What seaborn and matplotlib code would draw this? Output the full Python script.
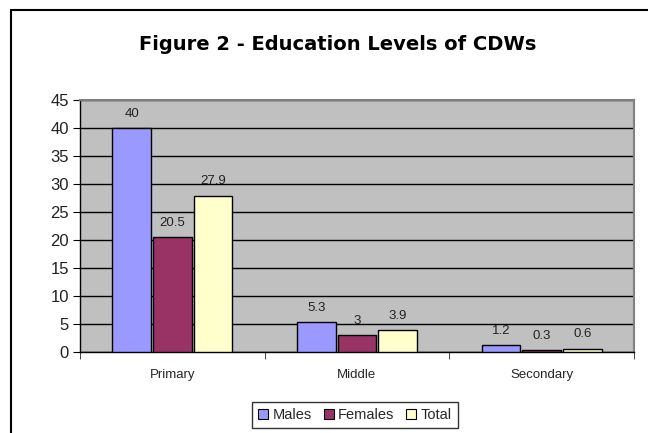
import matplotlib
matplotlib.use("Agg")
import matplotlib.pyplot as plt
import seaborn as sns
import pandas as pd
from matplotlib.patches import Rectangle
from matplotlib.lines import Line2D

categories = ["Primary", "Middle", "Secondary"]
series = ["Males", "Females", "Total"]
males = [40, 5.3, 1.2]
females = [20.5, 3, 0.3]
total = [27.9, 3.9, 0.6]
colors = ["#9999FF", "#993366", "#FFFFCC"]

rows = []
for s, vals in zip(series, [males, females, total]):
    for c, v in zip(categories, vals):
        rows.append({"Level": c, "Series": s, "Value": v})
df = pd.DataFrame(rows)

sns.set_style("white")
plt.rcParams["font.family"] = ["Liberation Sans", "DejaVu Sans"]

fig = plt.figure(figsize=(6.48, 4.33), dpi=100)
ax = fig.add_axes([80/648, 1 - 352/433, (634-80)/648, (352-100)/433])
ax.set_facecolor("#C0C0C0")

sns.barplot(data=df, x="Level", y="Value", hue="Series", order=categories,
            hue_order=series, palette=colors, saturation=1, width=0.66, gap=0.05,
            edgecolor="black", linewidth=1, ax=ax, legend=False, zorder=3)

ax.set_ylim(0, 45)
ax.set_xlim(-0.5, 2.5)
ax.set_yticks(range(0, 46, 5))
ax.yaxis.grid(True, color="black", linewidth=1, zorder=0)
ax.set_axisbelow(True)
ax.set_xlabel("")
ax.set_ylabel("")
ax.tick_params(axis="y", labelsize=12, length=5, direction="out", left=True, colors="black", pad=3)
ax.tick_params(axis="x", labelsize=9.5, length=0, pad=12)
ax.set_xticks([-0.5, 0.5, 1.5, 2.5], minor=True)
ax.tick_params(axis="x", which="minor", length=5, direction="out", bottom=True)
for lab in ax.get_yticklabels():
    lab.set_color("#222222")

for sp in ["top", "right"]:
    ax.spines[sp].set_color("#808080")
    ax.spines[sp].set_linewidth(1.5)
for sp in ["left", "bottom"]:
    ax.spines[sp].set_color("black")
    ax.spines[sp].set_linewidth(1)

for cont in ax.containers:
    ax.bar_label(cont, labels=[f"{v:g}" for v in cont.datavalues], padding=6, fontsize=9.5, color="#222222")

fig.text(338/648, 1 - 45/433, "Figure 2 - Education Levels of CDWs", ha="center", va="center",
         fontsize=14, fontweight="bold", color="black", family=["DejaVu Sans"])

handles = [Rectangle((0, 0), 1, 1, facecolor=c, edgecolor="black", linewidth=0.8) for c in colors]
leg = fig.legend(handles, series, loc="center", bbox_to_anchor=(355/648, 1 - 415/433), ncol=3,
                 frameon=True, fontsize=10.5, handlelength=0.7, handleheight=0.7, handletextpad=0.3,
                 columnspacing=0.8, borderpad=0.4, fancybox=False, edgecolor="black")
leg.get_frame().set_linewidth(1)

# outer chart border (left and top)
fig.add_artist(Line2D([11/648, 11/648], [0, 1 - 10/433], color="black", linewidth=1.5, transform=fig.transFigure))
fig.add_artist(Line2D([11/648, 1], [1 - 10/433, 1 - 10/433], color="black", linewidth=1.5, transform=fig.transFigure))

fig.savefig("out.png", dpi=100)
